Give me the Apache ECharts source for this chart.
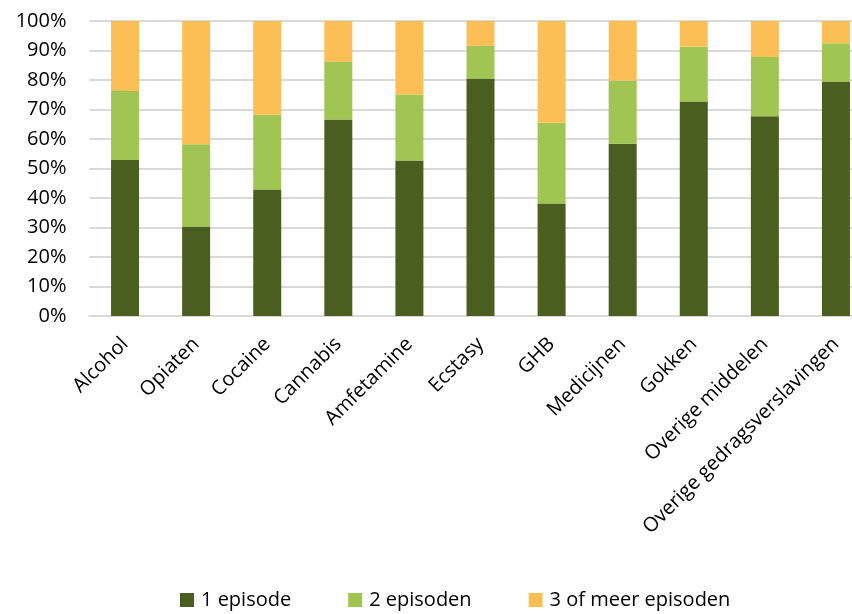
<!DOCTYPE html>
<html>
<head>
<meta charset="utf-8">
<script src="https://cdn.jsdelivr.net/npm/echarts@6/dist/echarts.min.js"></script>
<style>
html,body{margin:0;padding:0;background:#fff;}
#chart{width:852px;height:614px;}
</style>
</head>
<body>
<div id="chart"></div>
<script>
const categories = ["Alcohol","Opiaten","Cocaine","Cannabis","Amfetamine","Ecstasy","GHB","Medicijnen","Gokken","Overige middelen","Overige gedragsverslavingen"];
const seriesNames = ["1 episode","2 episoden","3 of meer episoden"];
const episode1 = [52.9,30.3,42.9,66.6,52.7,80.5,38.1,58.4,72.7,67.7,79.5];
const episode2 = [23.4,27.9,25.3,19.6,22.4,11.1,27.4,21.4,18.6,20.1,13.0];
const episode3 = [23.7,41.8,31.8,13.8,24.9,8.4,34.5,20.2,8.7,12.2,7.5];
const yTicks = [0,10,20,30,40,50,60,70,80,90,100];

const colors = ["#4a5e20","#a0c552","#fcbf56"];
const font = "Open Sans";
const chart = echarts.init(document.getElementById('chart'), null, {renderer:'canvas'});
const mk = (name, data, i) => ({
  name: name, type: 'bar', stack: 'total', data: data,
  barWidth: 28, itemStyle: {color: colors[i]},
  emphasis: {disabled: true}
});
chart.setOption({
  animation: false,
  textStyle: {fontFamily: font},
  grid: {left: 89.5, width: 782, top: 21, height: 295, containLabel: false, outerBoundsMode: 'none'},
  legend: {
    data: seriesNames, left: 175, top: 585,
    itemWidth: 14, itemHeight: 14, itemGap: 57,
    icon: 'rect',
    textStyle: {fontFamily: font, fontSize: 20, color: '#000', padding: [0,0,0,2]}
  },
  xAxis: {
    type: 'category', data: categories,
    axisLine: {show: true, lineStyle: {color: '#d9d9d9', width: 2}},
    axisTick: {show: false},
    axisLabel: {rotate: 45, interval: 0, margin: 25, fontFamily: font, fontSize: 20, color: '#000'}
  },
  yAxis: {
    type: 'value', min: 0, max: 100, interval: 10,
    axisLine: {show: false}, axisTick: {show: false},
    splitLine: {lineStyle: {color: '#d9d9d9', width: 2}},
    axisLabel: {formatter: '{value}%', margin: 23, fontFamily: font, fontSize: 20, color: '#000',
      customValues: yTicks}
  },
  series: [mk(seriesNames[0], episode1, 0), mk(seriesNames[1], episode2, 1), mk(seriesNames[2], episode3, 2)]
});
</script>
</body>
</html>
